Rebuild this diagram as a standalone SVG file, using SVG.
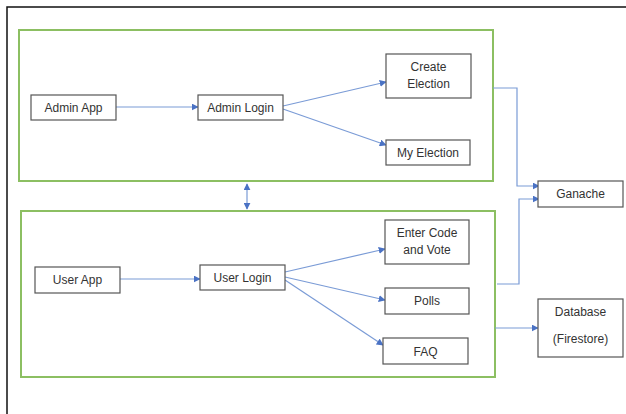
<svg xmlns="http://www.w3.org/2000/svg" width="626" height="414" viewBox="0 0 626 414">
<defs>
<style>
.frame{fill:none;stroke:#111;stroke-width:1.5}
.grp{fill:none;stroke:#8cbf62;stroke-width:2}
.box{fill:#fff;stroke:#555;stroke-width:1.2}
.t{font-family:"Liberation Sans",Arial,sans-serif;font-size:12px;fill:#333;text-anchor:middle}
.c{fill:none;stroke:#7a9bd6;stroke-width:1.2}
</style>
<marker id="ah" viewBox="0 0 10 10" refX="9" refY="5" markerWidth="7" markerHeight="7" orient="auto-start-reverse" markerUnits="userSpaceOnUse">
<path d="M0,0 L10,5 L0,10 z" fill="#4a72c4"/>
</marker>
</defs>
<rect width="626" height="414" fill="#fff"/>
<path class="frame" d="M7,414 V7 H626"/>
<g id="admin-group"><rect class="grp" x="19" y="30" width="474" height="151"/></g>
<g id="user-group"><rect class="grp" x="21" y="211" width="474" height="166"/></g>
<g id="connectors">
<line class="c" x1="116" y1="107" x2="198" y2="107" marker-end="url(#ah)"/>
<line class="c" x1="283" y1="106" x2="386" y2="82" marker-end="url(#ah)"/>
<line class="c" x1="283" y1="109" x2="386" y2="145" marker-end="url(#ah)"/>
<polyline class="c" points="493,88 517,88 517,186 539,186" marker-end="url(#ah)"/>
<polyline class="c" points="497,284 519,284 519,199 539,199" marker-end="url(#ah)"/>
<line class="c" x1="247" y1="184" x2="247" y2="209" marker-start="url(#ah)" marker-end="url(#ah)"/>
<line class="c" x1="120" y1="279" x2="200" y2="279" marker-end="url(#ah)"/>
<line class="c" x1="285" y1="272" x2="385" y2="249" marker-end="url(#ah)"/>
<line class="c" x1="285" y1="277" x2="385" y2="300" marker-end="url(#ah)"/>
<line class="c" x1="285" y1="280" x2="383" y2="345" marker-end="url(#ah)"/>
<line class="c" x1="495" y1="328" x2="538" y2="328" marker-end="url(#ah)"/>
</g>
<g id="admin-app"><rect class="box" x="31" y="95" width="85" height="25"/><text class="t" x="73.5" y="112">Admin App</text></g>
<g id="admin-login"><rect class="box" x="198" y="95" width="85" height="25"/><text class="t" x="240.5" y="112">Admin Login</text></g>
<g id="create-election"><rect class="box" x="386" y="54" width="85" height="44"/><text class="t" x="428.5" y="71">Create</text><text class="t" x="428.5" y="88">Election</text></g>
<g id="my-election"><rect class="box" x="386" y="140" width="84" height="25"/><text class="t" x="428" y="157">My Election</text></g>
<g id="ganache"><rect class="box" x="538" y="181" width="85" height="26"/><text class="t" x="580.5" y="198">Ganache</text></g>
<g id="user-app"><rect class="box" x="35" y="267" width="85" height="26"/><text class="t" x="77.5" y="284">User App</text></g>
<g id="user-login"><rect class="box" x="200" y="265" width="85" height="25"/><text class="t" x="242.5" y="282">User Login</text></g>
<g id="enter-code"><rect class="box" x="385" y="220" width="84" height="44"/><text class="t" x="427" y="237">Enter Code</text><text class="t" x="427" y="254">and Vote</text></g>
<g id="polls"><rect class="box" x="385" y="288" width="84" height="26"/><text class="t" x="427" y="305">Polls</text></g>
<g id="faq"><rect class="box" x="383" y="338" width="85" height="26"/><text class="t" x="425.5" y="356">FAQ</text></g>
<g id="database"><rect class="box" x="538" y="299" width="85" height="58"/><text class="t" x="580.5" y="316">Database</text><text class="t" x="580.5" y="343">(Firestore)</text></g>
</svg>
